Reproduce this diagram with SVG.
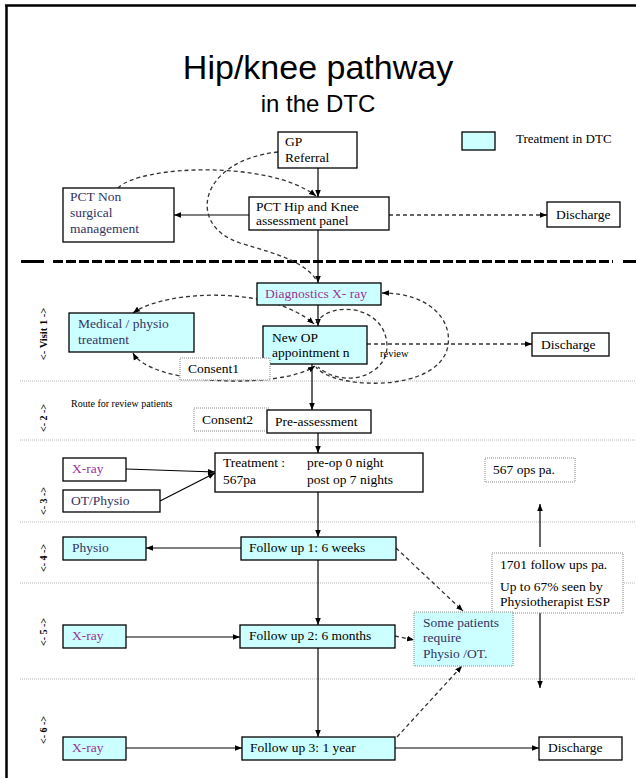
<svg xmlns="http://www.w3.org/2000/svg" width="636" height="778" viewBox="0 0 636 778">
<defs>
<marker id="ah" viewBox="0 0 10 10" refX="10" refY="5" markerWidth="7" markerHeight="7" markerUnits="userSpaceOnUse" orient="auto-start-reverse"><path d="M0,1 L10,5 L0,9 z" fill="#000"/></marker>
<style>
.box{fill:#fff;stroke:#000;stroke-width:1.3}
.cy{fill:#ccffff;stroke:#000;stroke-width:1.3}
.dot{fill:#fff;stroke:#888;stroke-width:1;stroke-dasharray:1 1}
.cydot{fill:#ccffff;stroke:#888;stroke-width:1;stroke-dasharray:1 1}
.t{font-family:"Liberation Serif","Times New Roman",serif;font-size:13.5px;fill:#000}
.nv{fill:#333366}
.mg{fill:#993399}
.lbl{font-family:"Liberation Serif","Times New Roman",serif;font-size:10px;font-weight:bold;fill:#000;text-anchor:middle}
.sep{stroke:#b8b8b8;stroke-width:1;stroke-dasharray:1 1;fill:none}
.ln{stroke:#000;stroke-width:1.2;fill:none}
.dl{stroke:#333;stroke-width:1.3;fill:none;stroke-dasharray:4 3}
</style>
</defs>
<rect x="0" y="0" width="636" height="778" fill="#fff"/>
<g id="frame">
<line x1="5" y1="5.5" x2="636" y2="5.5" stroke="#000" stroke-width="2.5"/>
<line x1="6.5" y1="5" x2="6.5" y2="778" stroke="#000" stroke-width="2.5"/>
</g>
<g id="title">
<text x="318" y="79" text-anchor="middle" font-family="Liberation Sans, Arial, sans-serif" font-size="34">Hip/knee pathway</text>
<text x="318" y="112" text-anchor="middle" font-family="Liberation Sans, Arial, sans-serif" font-size="24">in the DTC</text>
</g>
<g id="legend">
<rect class="cy" x="462" y="132" width="33" height="18"/>
<text class="t" x="516" y="143" style="font-size:13px">Treatment in DTC</text>
</g>
<g id="separators">
<line x1="21" y1="261.5" x2="44" y2="261.5" stroke="#000" stroke-width="3"/>
<line x1="53" y1="261.5" x2="613" y2="261.5" stroke="#000" stroke-width="3" stroke-dasharray="10 3"/>
<line x1="623" y1="261.5" x2="636" y2="261.5" stroke="#000" stroke-width="3"/>
<line class="sep" x1="20" y1="381" x2="636" y2="381"/>
<line class="sep" x1="20" y1="440" x2="636" y2="440"/>
<line class="sep" x1="20" y1="522" x2="636" y2="522"/>
<line class="sep" x1="20" y1="583" x2="636" y2="583"/>
<line class="sep" x1="20" y1="679" x2="636" y2="679"/>
</g>
<g id="visit-labels">
<text class="lbl" x="47" y="334" style="font-size:10.5px" transform="rotate(-90 47 334)">&lt;- Visit 1 -&gt;</text>
<text class="lbl" x="47" y="418" transform="rotate(-90 47 418)">&lt;- 2 -&gt;</text>
<text class="lbl" x="47" y="501" transform="rotate(-90 47 501)">&lt;- 3 -&gt;</text>
<text class="lbl" x="47" y="558" transform="rotate(-90 47 558)">&lt;- 4 -&gt;</text>
<text class="lbl" x="47" y="632" transform="rotate(-90 47 632)">&lt;- 5 -&gt;</text>
<text class="lbl" x="47" y="730" transform="rotate(-90 47 730)">&lt;- 6 -&gt;</text>
</g>
<g id="connectors">
<line class="ln" x1="318" y1="168" x2="318" y2="197" marker-end="url(#ah)"/>
<line class="ln" x1="249" y1="215" x2="174" y2="215" marker-end="url(#ah)"/>
<line class="dl" x1="389" y1="215" x2="547" y2="215" marker-end="url(#ah)"/>
<path class="dl" d="M118,188 C140,165 270,160 316,196" marker-end="url(#ah)"/>
<path class="dl" d="M278,152 C200,160 185,225 240,243 C280,255 305,262 317,281"/>
<line class="ln" x1="318" y1="230" x2="318" y2="283" marker-end="url(#ah)"/>
<line class="ln" x1="318" y1="305" x2="318" y2="326" marker-end="url(#ah)"/>
<path class="dl" d="M133,313 C165,290 270,285 314,324" marker-start="url(#ah)" marker-end="url(#ah)"/>
<path class="dl" d="M133,353 C150,385 280,390 315,366" marker-start="url(#ah)" marker-end="url(#ah)"/>
<path class="dl" d="M316,323 C330,300 385,305 387,345 C388,375 345,390 318,367"/>
<path class="dl" d="M382,293 C430,293 452,320 448,345 C444,375 400,385 367,383 C340,382 322,375 316,367" marker-start="url(#ah)"/>
<line class="dl" x1="367" y1="344" x2="532" y2="344" marker-end="url(#ah)"/>
<line class="ln" x1="312" y1="364" x2="312" y2="410" marker-end="url(#ah)"/>
<line class="ln" x1="318" y1="433" x2="318" y2="453" marker-end="url(#ah)"/>
<line class="ln" x1="126" y1="469" x2="215" y2="472" marker-end="url(#ah)"/>
<line class="ln" x1="160" y1="501" x2="215" y2="473" marker-end="url(#ah)"/>
<line class="ln" x1="540" y1="547" x2="540" y2="504" marker-end="url(#ah)"/>
<line class="ln" x1="318" y1="492" x2="318" y2="537" marker-end="url(#ah)"/>
<line class="ln" x1="241" y1="548" x2="146" y2="548" marker-end="url(#ah)"/>
<line class="dl" x1="396" y1="548" x2="463" y2="611" marker-end="url(#ah)"/>
<line class="ln" x1="318" y1="560" x2="318" y2="625" marker-end="url(#ah)"/>
<line class="ln" x1="126" y1="637" x2="240" y2="637" marker-end="url(#ah)"/>
<line class="dl" x1="395" y1="636" x2="414" y2="640" marker-end="url(#ah)"/>
<line class="ln" x1="318" y1="648" x2="318" y2="737" marker-end="url(#ah)"/>
<line class="ln" x1="540" y1="613" x2="540" y2="688" marker-end="url(#ah)"/>
<line class="ln" x1="126" y1="748" x2="242" y2="748" marker-end="url(#ah)"/>
<line class="ln" x1="395" y1="748" x2="539" y2="748" marker-end="url(#ah)"/>
<line class="dl" x1="397" y1="737" x2="462" y2="666" marker-end="url(#ah)"/>
</g>
<g id="gp-referral"><rect class="box" x="278" y="132" width="79" height="36"/><text class="t" x="285" y="146">GP</text><text class="t" x="285" y="162">Referral</text></g>
<g id="pct-hip-knee"><rect class="box" x="249" y="197" width="140" height="33"/><text class="t" x="256" y="211">PCT Hip and Knee</text><text class="t" x="256" y="225">assessment panel</text></g>
<g id="pct-non-surgical"><rect class="box" x="63" y="188" width="111" height="54"/><text class="t nv" x="70" y="201">PCT Non</text><text class="t nv" x="70" y="217">surgical</text><text class="t nv" x="70" y="233">management</text></g>
<g id="discharge-0"><rect class="box" x="547" y="202" width="73" height="25"/><text class="t" x="556" y="219">Discharge</text></g>
<g id="diagnostics"><rect class="cy" x="257" y="283" width="124" height="22"/><text class="t mg" x="265" y="298">Diagnostics X- ray</text></g>
<g id="new-op"><rect class="cy" x="263" y="326" width="104" height="38"/><text class="t" x="272" y="342">New OP</text><text class="t" x="272" y="357">appointment n</text></g>
<g id="medical"><rect class="cy" x="69" y="313" width="125" height="39"/><text class="t nv" x="78" y="328">Medical / physio</text><text class="t nv" x="78" y="344">treatment</text></g>
<g id="consent1"><rect class="dot" x="180" y="358" width="90" height="22"/><text class="t" x="188" y="373">Consent1</text></g>
<g id="review"><text class="t" x="380" y="357" style="font-size:10.5px">review</text></g>
<g id="discharge-1"><rect class="box" x="532" y="333" width="77" height="23"/><text class="t" x="541" y="349">Discharge</text></g>
<g id="route-note"><text class="t" x="71" y="407" style="font-size:10px">Route for review patients</text></g>
<g id="consent2"><rect class="dot" x="194" y="408" width="75" height="23"/><text class="t" x="202" y="424">Consent2</text></g>
<g id="pre-assessment"><rect class="box" x="267" y="410" width="104" height="23"/><text class="t" x="275" y="426">Pre-assessment</text></g>
<g id="treatment"><rect class="box" x="215" y="453" width="208" height="39"/><text class="t" x="223" y="467">Treatment :</text><text class="t" x="307" y="467">pre-op 0 night</text><text class="t" x="223" y="484">567pa</text><text class="t" x="307" y="484">post op 7 nights</text></g>
<g id="xray-3"><rect class="box" x="63" y="458" width="63" height="23"/><text class="t mg" x="72" y="473">X-ray</text></g>
<g id="ot-physio"><rect class="box" x="63" y="490" width="97" height="22"/><text class="t nv" x="71" y="505">OT/Physio</text></g>
<g id="ops-567"><rect class="dot" x="485" y="458" width="90" height="24"/><text class="t" x="493" y="474">567 ops  pa.</text></g>
<g id="physio-4"><rect class="cy" x="63" y="537" width="83" height="23"/><text class="t nv" x="72" y="552">Physio</text></g>
<g id="follow-up-1"><rect class="cy" x="241" y="537" width="155" height="23"/><text class="t" x="249" y="552">Follow up 1: 6 weeks</text></g>
<g id="follow-ups-1701"><rect class="dot" x="492" y="553" width="131" height="60"/><text class="t" x="500" y="569">1701 follow ups pa.</text><text class="t" x="500" y="591">Up to 67% seen by</text><text class="t" x="500" y="606">Physiotherapist ESP</text></g>
<g id="some-patients"><rect class="cydot" x="414" y="612" width="99" height="54"/><text class="t nv" x="423" y="627">Some patients</text><text class="t nv" x="423" y="642">require</text><text class="t nv" x="423" y="658">Physio /OT.</text></g>
<g id="xray-5"><rect class="cy" x="63" y="625" width="63" height="23"/><text class="t mg" x="72" y="640">X-ray</text></g>
<g id="follow-up-2"><rect class="cy" x="240" y="625" width="155" height="23"/><text class="t" x="249" y="640">Follow up 2: 6 months</text></g>
<g id="xray-6"><rect class="cy" x="63" y="737" width="63" height="23"/><text class="t mg" x="72" y="752">X-ray</text></g>
<g id="follow-up-3"><rect class="cy" x="242" y="737" width="153" height="23"/><text class="t" x="250" y="752">Follow up 3: 1 year</text></g>
<g id="discharge-2"><rect class="box" x="539" y="737" width="83" height="23"/><text class="t" x="548" y="752">Discharge</text></g>
</svg>
